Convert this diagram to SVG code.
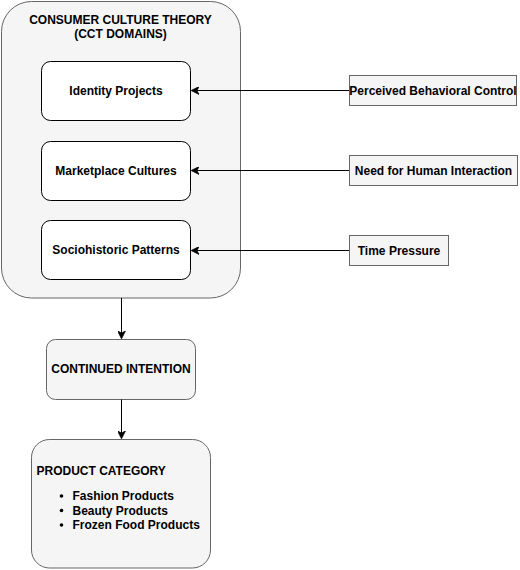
<svg xmlns="http://www.w3.org/2000/svg" width="520" height="570" viewBox="0 0 520 570">
<style>
text{font-family:"Liberation Sans",Arial,Helvetica,sans-serif;font-weight:bold;font-size:12px;fill:#000}
.c{text-anchor:middle}
.grey{fill:#f5f5f5;stroke:#666;stroke-width:1}
.white{fill:#fff;stroke:#000;stroke-width:1}
.edge{fill:none;stroke:#000;stroke-width:1}
</style>
<defs>
<marker id="ah" viewBox="0 0 10 10" refX="9" refY="5" markerWidth="8" markerHeight="8" markerUnits="userSpaceOnUse" orient="auto">
<path d="M0,0 L10,5 L0,10 L3,5 Z" fill="#000" stroke="#000" stroke-width="1"/>
</marker>
</defs>
<rect width="520" height="570" fill="#fff"/>
<g id="cct">
<rect class="grey" x="1.5" y="1.5" width="239" height="296.5" rx="30"/>
<text class="c" x="120.5" y="24">CONSUMER CULTURE THEORY</text>
<text class="c" x="120.5" y="38">(CCT DOMAINS)</text>
</g>
<g id="identity">
<rect class="white" x="41.5" y="61.5" width="149" height="59" rx="9"/>
<text class="c" x="116" y="95">Identity Projects</text>
</g>
<g id="marketplace">
<rect class="white" x="41.5" y="141.5" width="149" height="59" rx="9"/>
<text class="c" x="116" y="175">Marketplace Cultures</text>
</g>
<g id="sociohistoric">
<rect class="white" x="41.5" y="220.5" width="149" height="59" rx="9"/>
<text class="c" x="116" y="254">Sociohistoric Patterns</text>
</g>
<g id="pbc">
<rect class="grey" x="349.5" y="75.5" width="167" height="30"/>
<text class="c" x="433" y="95">Perceived Behavioral Control</text>
</g>
<g id="nhi">
<rect class="grey" x="349.5" y="155.5" width="168" height="30"/>
<text class="c" x="433.5" y="175">Need for Human Interaction</text>
</g>
<g id="tp">
<rect class="grey" x="349.5" y="235.5" width="99" height="30"/>
<text class="c" x="399" y="255">Time Pressure</text>
</g>
<g id="ci">
<rect class="grey" x="46.5" y="339.5" width="149" height="60" rx="9"/>
<text class="c" x="121" y="373">CONTINUED INTENTION</text>
</g>
<g id="pc">
<rect class="grey" x="31.5" y="439.5" width="179" height="128.5" rx="18"/>
<text x="36.5" y="475">PRODUCT CATEGORY</text>
<circle cx="61.5" cy="496" r="1.8" fill="#000"/>
<circle cx="61.5" cy="510.5" r="1.8" fill="#000"/>
<circle cx="61.5" cy="525" r="1.8" fill="#000"/>
<text x="72.5" y="500">Fashion Products</text>
<text x="72.5" y="514.5">Beauty Products</text>
<text x="72.5" y="529">Frozen Food Products</text>
</g>
<g id="connectors">
<path class="edge" d="M349,90.5 L192,90.5" marker-end="url(#ah)"/>
<path class="edge" d="M349,170.5 L192,170.5" marker-end="url(#ah)"/>
<path class="edge" d="M349,250.5 L192,250.5" marker-end="url(#ah)"/>
<path class="edge" d="M121.5,298 L121.5,338" marker-end="url(#ah)"/>
<path class="edge" d="M121.5,399.5 L121.5,438" marker-end="url(#ah)"/>
</g>
</svg>
